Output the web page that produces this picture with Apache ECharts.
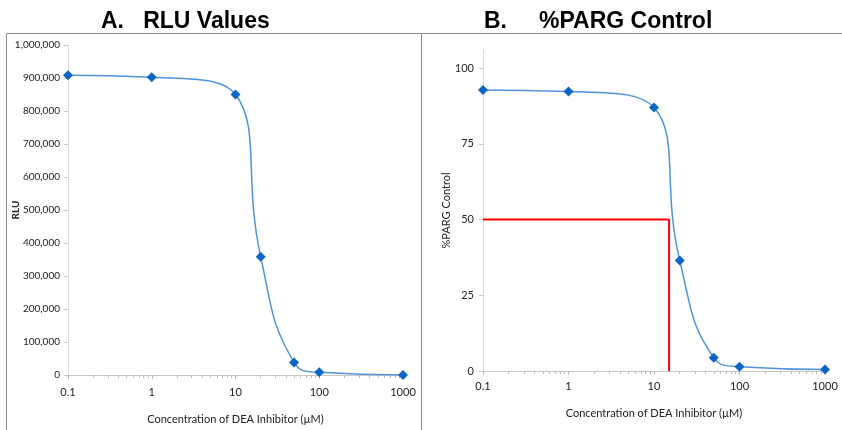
<!DOCTYPE html>
<html>
<head>
<meta charset="utf-8">
<script src="https://cdn.jsdelivr.net/npm/echarts@6/dist/echarts.min.js"></script>
<style>
  html, body { margin: 0; padding: 0; background: #fff; }
  #chart { width: 842px; height: 430px; }
</style>
</head>
<body>
<div id="chart"></div>
<script>
// concentrations (uM) used for both panels
const conc = [0.1, 1, 10, 20, 50, 100, 1000];
// panel A: RLU readings
const rluValues = [908000, 902000, 850000, 358000, 38000, 8000, 0];
// panel B: percent of PARG control
const pargPercent = [92.8, 92.3, 87.0, 36.5, 4.4, 1.4, 0.5];
// IC50 guide (red lines)
const ic50Conc = 15;
const ic50Level = 50;
const pargTicks = [0, 25, 50, 75, 100];

const lineColor = '#4f93dc';
const markColor = '#0b65c6';
const labelFont = 'Lato, "Open Sans", sans-serif';
const titleFont = '"Liberation Sans", Arial, sans-serif';

function toPairs(xs, ys) {
    let out = [];
    for (let i = 0; i < xs.length; i++) {
        out.push([xs[i], ys[i]]);
    }
    return out;
}

function xAxisFor(gridIndex, gap, labelMargin) {
    return {
        type: 'log',
        gridIndex: gridIndex,
        logBase: 10,
        min: 0.1,
        max: 1000,
        name: 'Concentration of DEA Inhibitor (\u00b5M)',
        nameLocation: 'middle',
        nameGap: gap,
        nameTextStyle: { color: '#222', fontSize: 11, fontFamily: labelFont },
        axisLine: { lineStyle: { color: '#c8c8c8' } },
        axisTick: { show: true, inside: false, length: 4, lineStyle: { color: '#bcbcbc' } },
        minorTick: { show: true, splitNumber: 9, length: 3, lineStyle: { color: '#bcbcbc' } },
        splitLine: { show: false },
        axisLabel: { color: '#222', fontSize: 11, fontFamily: labelFont, margin: labelMargin,
            formatter: function (v) { return String(v); } }
    };
}

const chart = echarts.init(document.getElementById('chart'), null, { renderer: 'canvas' });

const option = {
    backgroundColor: '#fff',
    animation: false,
    title: [
        {
            text: 'A.   RLU Values', left: 96, top: 5,
            textStyle: { fontSize: 23, fontWeight: 'bold', color: '#000', fontFamily: titleFont }
        },
        {
            text: 'B.     %PARG Control', left: 479, top: 5,
            textStyle: { fontSize: 23, fontWeight: 'bold', color: '#000', fontFamily: titleFont }
        }
    ],
    graphic: [
        { type: 'rect', shape: { x: 6.5, y: 33.5, width: 415, height: 410 }, style: { fill: null, stroke: '#8c8c8c', lineWidth: 1 }, silent: true },
        { type: 'rect', shape: { x: 421.5, y: 33.5, width: 430, height: 410 }, style: { fill: null, stroke: '#8c8c8c', lineWidth: 1 }, silent: true }
    ],
    grid: [
        { left: 68, right: 439, top: 45, bottom: 55 },
        { left: 483, right: 17, top: 50, bottom: 59 }
    ],
    xAxis: [xAxisFor(0, 39, 12), xAxisFor(1, 37, 10)],
    yAxis: [
        {
            type: 'value', gridIndex: 0, min: 0, max: 1000000, interval: 100000,
            name: 'RLU', nameLocation: 'middle', nameGap: 47, nameRotate: 90,
            nameMoveOverlap: false,
            nameTextStyle: { color: '#222', fontSize: 10, fontWeight: 'bold', fontFamily: labelFont },
            axisLine: { show: true, lineStyle: { color: '#dcdcdc' } },
            axisTick: { show: true, length: 4, lineStyle: { color: '#c8c8c8' } },
            splitLine: { show: false },
            axisLabel: { color: '#222', fontSize: 10, fontFamily: labelFont, margin: 8,
                formatter: function (v) { return v.toLocaleString('en-US'); } }
        },
        {
            type: 'value', gridIndex: 1, min: 0, max: 106,
            name: '%PARG Control', nameLocation: 'middle', nameGap: 31, nameRotate: 90,
            nameMoveOverlap: false,
            nameTextStyle: { color: '#222', fontSize: 11, fontFamily: labelFont },
            axisLine: { show: true, lineStyle: { color: '#dcdcdc' } },
            axisTick: { show: true, length: 4, customValues: pargTicks, lineStyle: { color: '#c8c8c8' } },
            splitLine: { show: false },
            axisLabel: { color: '#222', fontSize: 11, fontFamily: labelFont, margin: 9, customValues: pargTicks }
        }
    ],
    series: [
        {
            type: 'line', xAxisIndex: 0, yAxisIndex: 0,
            data: toPairs(conc, rluValues),
            smooth: 0.5, symbol: 'diamond', symbolSize: 10,
            lineStyle: { color: lineColor, width: 1.5 },
            itemStyle: { color: markColor }
        },
        {
            type: 'line', xAxisIndex: 1, yAxisIndex: 1,
            data: [[0.1, ic50Level], [ic50Conc, ic50Level], [ic50Conc, 0]],
            symbol: 'none',
            lineStyle: { color: '#ff0000', width: 2 }
        },
        {
            type: 'line', xAxisIndex: 1, yAxisIndex: 1,
            data: toPairs(conc, pargPercent),
            smooth: 0.5, symbol: 'diamond', symbolSize: 10,
            lineStyle: { color: lineColor, width: 1.5 },
            itemStyle: { color: markColor }
        }
    ]
};

chart.setOption(option);
window.addEventListener('resize', chart.resize);
</script>
</body>
</html>
